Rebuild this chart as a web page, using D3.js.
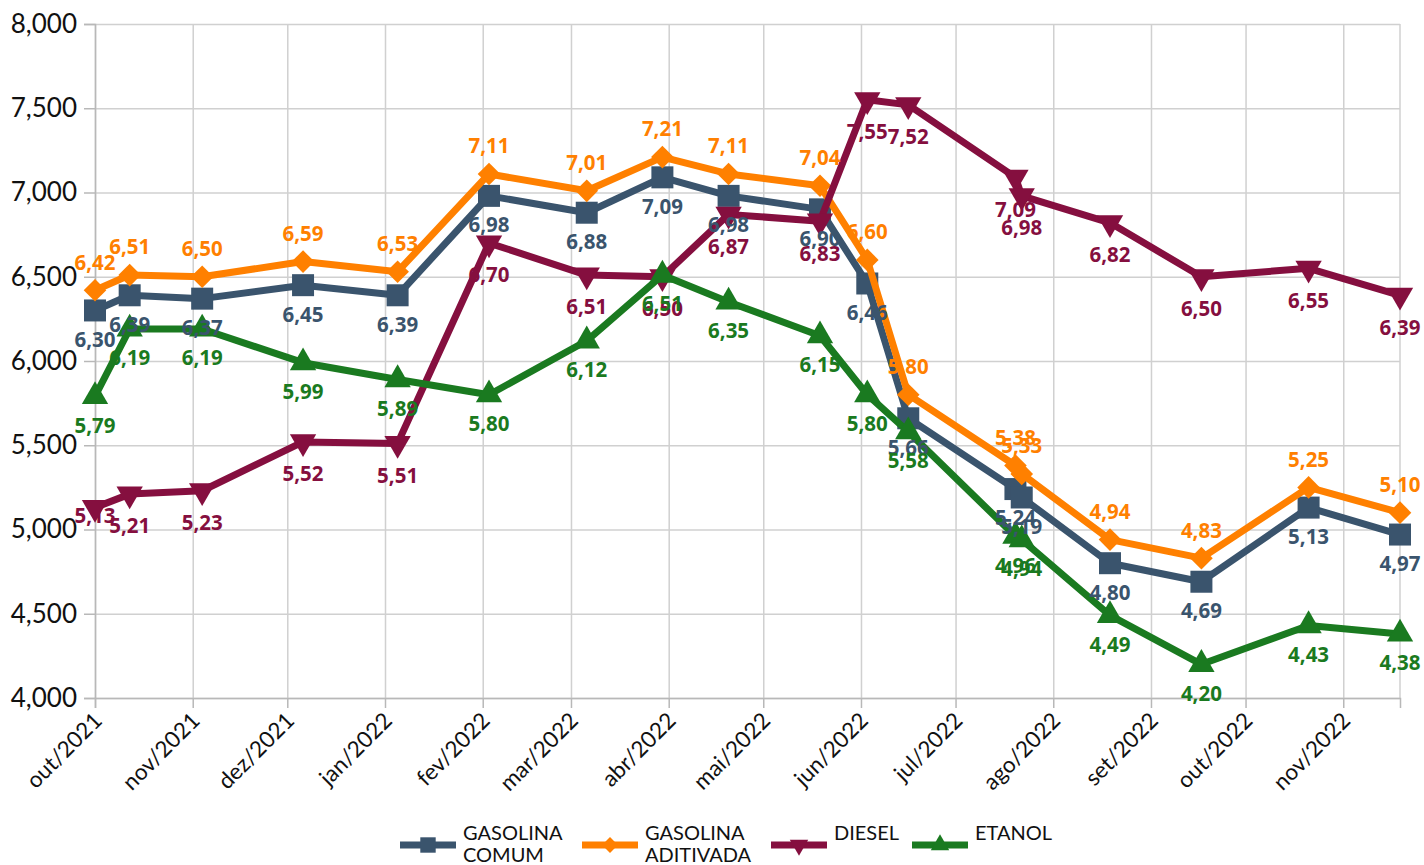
<!DOCTYPE html>
<html>
<head>
<meta charset="utf-8">
<script src="https://cdn.jsdelivr.net/npm/d3@7"></script>
<style>
  body { margin: 0; background: #fff; }
  svg { display: block; }
</style>
</head>
<body>
<script>
// datas de coleta
var dates = ["2021-10-01", "2021-10-12", "2021-11-04", "2021-12-06", "2022-01-05", "2022-02-03",
             "2022-03-06", "2022-03-30", "2022-04-20", "2022-05-19", "2022-06-03", "2022-06-16",
             "2022-07-20", "2022-07-22", "2022-08-19", "2022-09-17", "2022-10-21", "2022-11-19"];

var seriesNames = ["GASOLINA COMUM", "GASOLINA ADITIVADA", "DIESEL", "ETANOL"];

var gasolinaComum     = [6.30, 6.39, 6.37, 6.45, 6.39, 6.98, 6.88, 7.09, 6.98, 6.90, 6.46, 5.66, 5.24, 5.19, 4.80, 4.69, 5.13, 4.97];
var gasolinaAditivada = [6.42, 6.51, 6.50, 6.59, 6.53, 7.11, 7.01, 7.21, 7.11, 7.04, 6.60, 5.80, 5.38, 5.33, 4.94, 4.83, 5.25, 5.10];
var diesel            = [5.13, 5.21, 5.23, 5.52, 5.51, 6.70, 6.51, 6.50, 6.87, 6.83, 7.55, 7.52, 7.09, 6.98, 6.82, 6.50, 6.55, 6.39];
var etanol            = [5.79, 6.19, 6.19, 5.99, 5.89, 5.80, 6.12, 6.51, 6.35, 6.15, 5.80, 5.58, 4.96, 4.94, 4.49, 4.20, 4.43, 4.38];

var yTicks = [4, 4.5, 5, 5.5, 6, 6.5, 7, 7.5, 8];
var monthNames = ["jan", "fev", "mar", "abr", "mai", "jun", "jul", "ago", "set", "out", "nov", "dez"];

var w = 1424, h = 865;
var margin = {top: 24, right: 24, bottom: 167, left: 95};

var parse = d3.timeParse("%Y-%m-%d");
var dateObjs = dates.map(parse);

var series = [
  {name: seriesNames[0], values: gasolinaComum,     color: "#3a546d", marker: "square",   labelDy: 29},
  {name: seriesNames[1], values: gasolinaAditivada, color: "#ff8000", marker: "diamond",  labelDy: -28},
  {name: seriesNames[2], values: diesel,            color: "#850f3f", marker: "triDown",  labelDy: 32},
  {name: seriesNames[3], values: etanol,            color: "#1a7a20", marker: "triUp",    labelDy: 29}
];

var x = d3.scaleTime()
  .domain([dateObjs[0], dateObjs[dateObjs.length - 1]])
  .range([margin.left, w - margin.right]);

var y = d3.scaleLinear()
  .domain([4, 8])
  .range([h - margin.bottom, margin.top]);

var svg = d3.select("body").append("svg")
  .attr("width", w)
  .attr("height", h);

var months = d3.timeMonth.range(d3.timeMonth.ceil(dateObjs[0]), dateObjs[dateObjs.length - 1]);
if (+months[0] !== +dateObjs[0]) months.unshift(dateObjs[0]);

// grid
svg.append("g")
  .attr("transform", "translate(0," + (h - margin.bottom) + ")")
  .call(d3.axisBottom(x).tickValues(months).tickSize(-(h - margin.bottom - margin.top)).tickFormat(""))
  .call(function(g) { g.select(".domain").remove(); })
  .selectAll("line").attr("stroke", "#d0d0d0").attr("stroke-width", 1.5);

svg.append("g")
  .attr("transform", "translate(" + margin.left + ",0)")
  .call(d3.axisLeft(y).tickValues(yTicks).tickSize(-(w - margin.left - margin.right)).tickFormat(""))
  .call(function(g) { g.select(".domain").remove(); })
  .selectAll("line").attr("stroke", "#d0d0d0").attr("stroke-width", 1.5);

// right border
svg.append("line")
  .attr("x1", w - margin.right).attr("x2", w - margin.right)
  .attr("y1", margin.top).attr("y2", h - margin.bottom)
  .attr("stroke", "#d0d0d0").attr("stroke-width", 1.5);

// axes
var yAxis = svg.append("g")
  .attr("transform", "translate(" + margin.left + ",0)")
  .call(d3.axisLeft(y).tickValues(yTicks).tickSize(11).tickPadding(7)
    .tickFormat(function(d) { return d3.format(".3f")(d).replace(".", ","); }));
yAxis.select(".domain").attr("stroke", "#b8b8b8").attr("stroke-width", 1.5);
yAxis.selectAll("line").attr("stroke", "#b8b8b8").attr("stroke-width", 1.5);
yAxis.selectAll("text")
  .attr("font-family", "Lato, sans-serif")
  .attr("font-size", "26px")
  .attr("fill", "#111");

var xAxis = svg.append("g")
  .attr("transform", "translate(0," + (h - margin.bottom) + ")")
  .call(d3.axisBottom(x).tickValues(months).tickSize(10)
    .tickFormat(function(d) { return monthNames[d.getMonth()] + "/" + d.getFullYear(); }));
xAxis.select(".domain").attr("stroke", "#b8b8b8").attr("stroke-width", 1.5);
xAxis.selectAll("line").attr("stroke", "#b8b8b8").attr("stroke-width", 1.5);
xAxis.selectAll("text")
  .attr("font-family", "Lato, sans-serif")
  .attr("font-size", "22.5px")
  .attr("fill", "#111")
  .attr("text-anchor", "end")
  .attr("dy", null)
  .attr("y", null)
  .attr("transform", "translate(8,24) rotate(-45)");

// markers
function markerPath(type) {
  if (type === "square") return d3.symbol().type(d3.symbolSquare).size(22 * 22)();
  if (type === "diamond") return d3.symbol().type(d3.symbolSquare).size(16 * 16)();
  return d3.symbol().type(d3.symbolTriangle).size(300)();
}
function markerRot(type) {
  if (type === "diamond") return " rotate(45)";
  if (type === "triDown") return " rotate(180)";
  return "";
}

var line = d3.line()
  .x(function(d, i) { return x(dateObjs[i]); })
  .y(function(d) { return y(d); });

series.forEach(function(s) {
  var g = svg.append("g");
  g.append("path")
    .attr("d", line(s.values))
    .attr("fill", "none")
    .attr("stroke", s.color)
    .attr("stroke-width", 7)
    .attr("stroke-linejoin", "round");
  g.selectAll("path.mk")
    .data(s.values)
    .enter()
    .append("path")
    .attr("class", "mk")
    .attr("d", markerPath(s.marker))
    .attr("transform", function(d, i) {
      return "translate(" + x(dateObjs[i]) + "," + y(d) + ")" + markerRot(s.marker);
    })
    .attr("fill", s.color);
});

// data labels on top
series.forEach(function(s, si) {
  svg.append("g").selectAll("text")
    .data(s.values)
    .enter()
    .append("text")
    .text(function(d) { return d.toFixed(2).replace(".", ","); })
    .attr("x", function(d, i) { return x(dateObjs[i]); })
    .attr("y", function(d, i) {
      // first diesel label sits close to its marker in the original
      if (si === 2 && i === 0) return y(d) + 8;
      return y(d) + s.labelDy;
    })
    .attr("dy", "0.36em")
    .attr("text-anchor", "middle")
    .attr("font-family", "'Open Sans', sans-serif")
    .attr("font-weight", "bold")
    .attr("font-size", "20.5px")
    .attr("fill", s.color);
});

// legend
var legendX = [400, 582, 771, 912];
var legend = svg.append("g");
series.forEach(function(s, i) {
  var lg = legend.append("g").attr("transform", "translate(" + legendX[i] + ",845)");
  lg.append("line")
    .attr("x1", 0).attr("x2", 56)
    .attr("stroke", s.color).attr("stroke-width", 7);
  lg.append("path")
    .attr("d", markerPath(s.marker))
    .attr("transform", "translate(28,0) scale(0.7)" + markerRot(s.marker))
    .attr("fill", s.color);
  var words = s.name.split(" ");
  var lines = words.length > 1 ? [words[0], words.slice(1).join(" ")] : [words[0]];
  var t = lg.append("text")
    .attr("x", 63)
    .attr("y", -5)
    .attr("font-family", "Lato, sans-serif")
    .attr("font-size", "20px")
    .attr("fill", "#111");
  lines.forEach(function(l, j) {
    t.append("tspan").attr("x", 63).attr("dy", j === 0 ? 0 : 22).text(l);
  });
});
</script>
</body>
</html>
